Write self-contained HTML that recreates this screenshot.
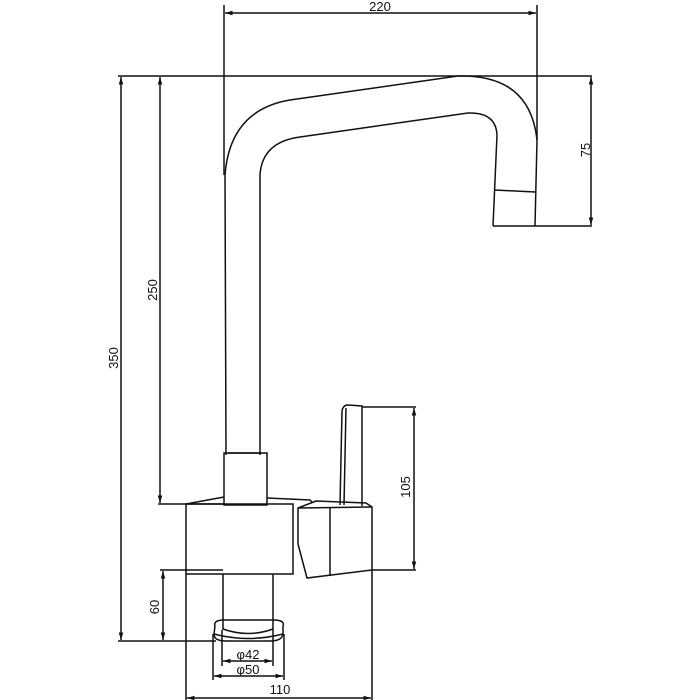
<!DOCTYPE html>
<html><head><style>html,body{margin:0;padding:0;background:#fff;}svg{display:block}</style></head><body>
<svg width="700" height="700" viewBox="0 0 700 700" xmlns="http://www.w3.org/2000/svg" fill="none" stroke="#111" stroke-width="1.5" font-family="Liberation Sans, sans-serif">
<defs><marker id="a" viewBox="0 0 10 10" refX="10" refY="5" markerWidth="7" markerHeight="5" orient="auto-start-reverse"><path d="M0,2 L10,5 L0,8z" fill="#111" stroke="none"/></marker></defs>
<line x1="224" y1="5" x2="224" y2="175"/><line x1="537" y1="5" x2="537" y2="140"/>
<line x1="225" y1="13" x2="536" y2="13" marker-start="url(#a)" marker-end="url(#a)"/>
<line x1="118" y1="76" x2="592" y2="76"/>
<path d="M226,455 L225,175 Q230,110 290,100 L458,76 Q530,74 537,140 L535,226"/>
<path d="M260,455 L260,175 Q262,142 300,137 L468,113 Q496,112 497,135 L493,226"/>
<line x1="494" y1="190" x2="535" y2="192"/>
<line x1="493" y1="226" x2="592" y2="226"/>
<line x1="591" y1="77" x2="591" y2="225" marker-start="url(#a)" marker-end="url(#a)"/>
<path d="M228,453 L261,453"/>
<rect x="224" y="453" width="43" height="52"/>
<path d="M186,504 L224,497 M267,498 L310,500 L312,502"/>
<rect x="186" y="504" width="107" height="70"/>
<path d="M298,508 L316,501 L366,503 L372,507 L372,570 L307,578 L298,544 Z"/>
<line x1="330" y1="508" x2="330" y2="576"/>
<path d="M298,508 L372,507"/>
<path d="M340,505 L342,411 Q343,405 348,405 L362,406 L362,506"/>
<line x1="346" y1="408" x2="344" y2="505"/>
<line x1="362" y1="407" x2="416" y2="407"/><line x1="372" y1="570" x2="416" y2="570"/>
<line x1="414" y1="408" x2="414" y2="569" marker-start="url(#a)" marker-end="url(#a)"/>
<line x1="223" y1="574" x2="223" y2="630"/><line x1="273" y1="574" x2="273" y2="630"/>
<path d="M223,629 Q248,638 273,629"/>
<path d="M215,626 Q213,621 222,620 L276,620 Q285,621 283,626 L283,634 Q282,641 270,641 L226,641 Q214,641 214,634 Z"/>
<path d="M214,634 Q248,643 283,634"/>
<line x1="160" y1="77" x2="160" y2="503" marker-start="url(#a)" marker-end="url(#a)"/>
<line x1="158" y1="504" x2="224" y2="504"/>
<line x1="121" y1="77" x2="121" y2="640" marker-start="url(#a)" marker-end="url(#a)"/>
<line x1="118" y1="641" x2="216" y2="641"/>
<line x1="160" y1="570" x2="223" y2="570"/>
<line x1="163" y1="571" x2="163" y2="640" marker-start="url(#a)" marker-end="url(#a)"/>
<line x1="222" y1="630" x2="222" y2="666"/><line x1="273" y1="630" x2="273" y2="666"/>
<line x1="213" y1="634" x2="213" y2="680"/><line x1="284" y1="634" x2="284" y2="680"/>
<line x1="223" y1="661" x2="272" y2="661" marker-start="url(#a)" marker-end="url(#a)"/>
<line x1="214" y1="676" x2="283" y2="676" marker-start="url(#a)" marker-end="url(#a)"/>
<line x1="186" y1="574" x2="186" y2="700"/><line x1="372" y1="570" x2="372" y2="700"/>
<line x1="187" y1="698" x2="371" y2="698" marker-start="url(#a)" marker-end="url(#a)"/>
<g fill="#111" stroke="none" font-size="13">
<text x="380" y="11" text-anchor="middle">220</text>
<text transform="translate(590,150) rotate(-90)" text-anchor="middle">75</text>
<text transform="translate(410,487) rotate(-90)" text-anchor="middle">105</text>
<text transform="translate(157,290) rotate(-90)" text-anchor="middle">250</text>
<text transform="translate(118,358) rotate(-90)" text-anchor="middle">350</text>
<text transform="translate(159,607) rotate(-90)" text-anchor="middle">60</text>
<text x="248" y="659" text-anchor="middle">φ42</text>
<text x="248" y="674" text-anchor="middle">φ50</text>
<text x="280" y="694" text-anchor="middle">110</text>
</g>
</svg>
</body></html>
